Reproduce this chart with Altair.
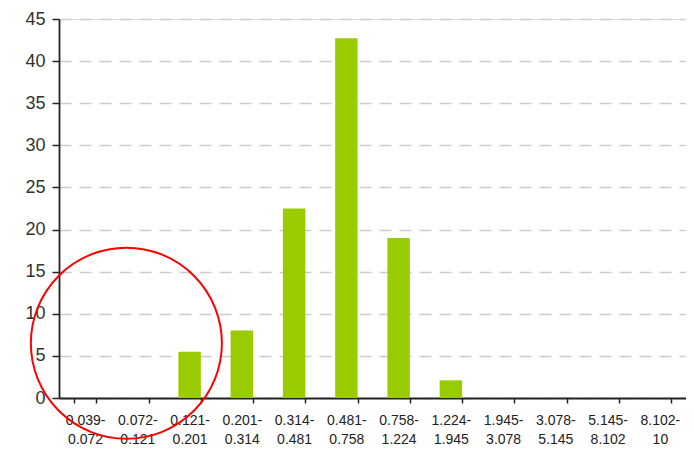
import altair as alt
import pandas as pd

lows = ["0.039", "0.072", "0.121", "0.201", "0.314", "0.481", "0.758", "1.224", "1.945", "3.078", "5.145", "8.102"]
highs = ["0.072", "0.121", "0.201", "0.314", "0.481", "0.758", "1.224", "1.945", "3.078", "5.145", "8.102", "10"]
values = [0, 0, 5.5, 8, 22.5, 42.7, 19, 2.1, 0, 0, 0, 0]

categories = [f"{a}-{b}" for a, b in zip(lows, highs)]
df = pd.DataFrame({"range": categories, "value": values})

# annotation circle (highlight around the low ranges)
circle_df = pd.DataFrame({"range": ["0.072-0.121"], "value": [6.5]})

x = alt.X(
    "range:N",
    sort=categories,
    title=None,
    scale=alt.Scale(paddingInner=0.57, paddingOuter=0.285),
    axis=alt.Axis(
        labelAngle=0,
        labelExpr="datum.value ? [split(datum.value, '-')[0] + '-', split(datum.value, '-')[1]] : ''",
        labelFont="Liberation Sans",
        labelFontSize=14,
        labelColor="#222222",
        labelLineHeight=19,
        labelPadding=10,
        tickColor="#222222",
        tickSize=5,
        tickWidth=1.5,
        tickBand="extent",
        domainColor="#222222",
        domainWidth=1.8,
        grid=False,
    ),
)

y = alt.Y(
    "value:Q",
    title=None,
    scale=alt.Scale(domain=[0, 45], nice=False),
    axis=alt.Axis(
        values=list(range(0, 50, 5)),
        labelFont="Liberation Sans",
        labelFontSize=18,
        labelColor="#333333",
        labelPadding=7,
        tickColor="#222222",
        tickSize=7,
        tickWidth=1.5,
        domainColor="#222222",
        domainWidth=1.8,
        grid=True,
        gridColor="#cccccc",
        gridDash=[12, 8],
        gridWidth=1.6,
    ),
)

bars = alt.Chart(df).mark_bar(color="#99cc00").encode(x=x, y=y)

circle = alt.Chart(circle_df).mark_point(
    shape="circle", size=36500, stroke="#ff0000", strokeWidth=2, filled=False,
    opacity=1, xOffset=-11
).encode(
    x=alt.X("range:N", sort=categories),
    y=alt.Y("value:Q"),
)

chart = alt.layer(bars, circle).properties(
    width=627,
    height=379,
    autosize=alt.AutoSizeParams(type="none"),
    padding={"left": 51, "top": 11, "right": 0, "bottom": 47},
).configure_view(stroke=None).configure(background="white")

chart.save("out.html", embed_options={"renderer": "svg", "actions": False})
